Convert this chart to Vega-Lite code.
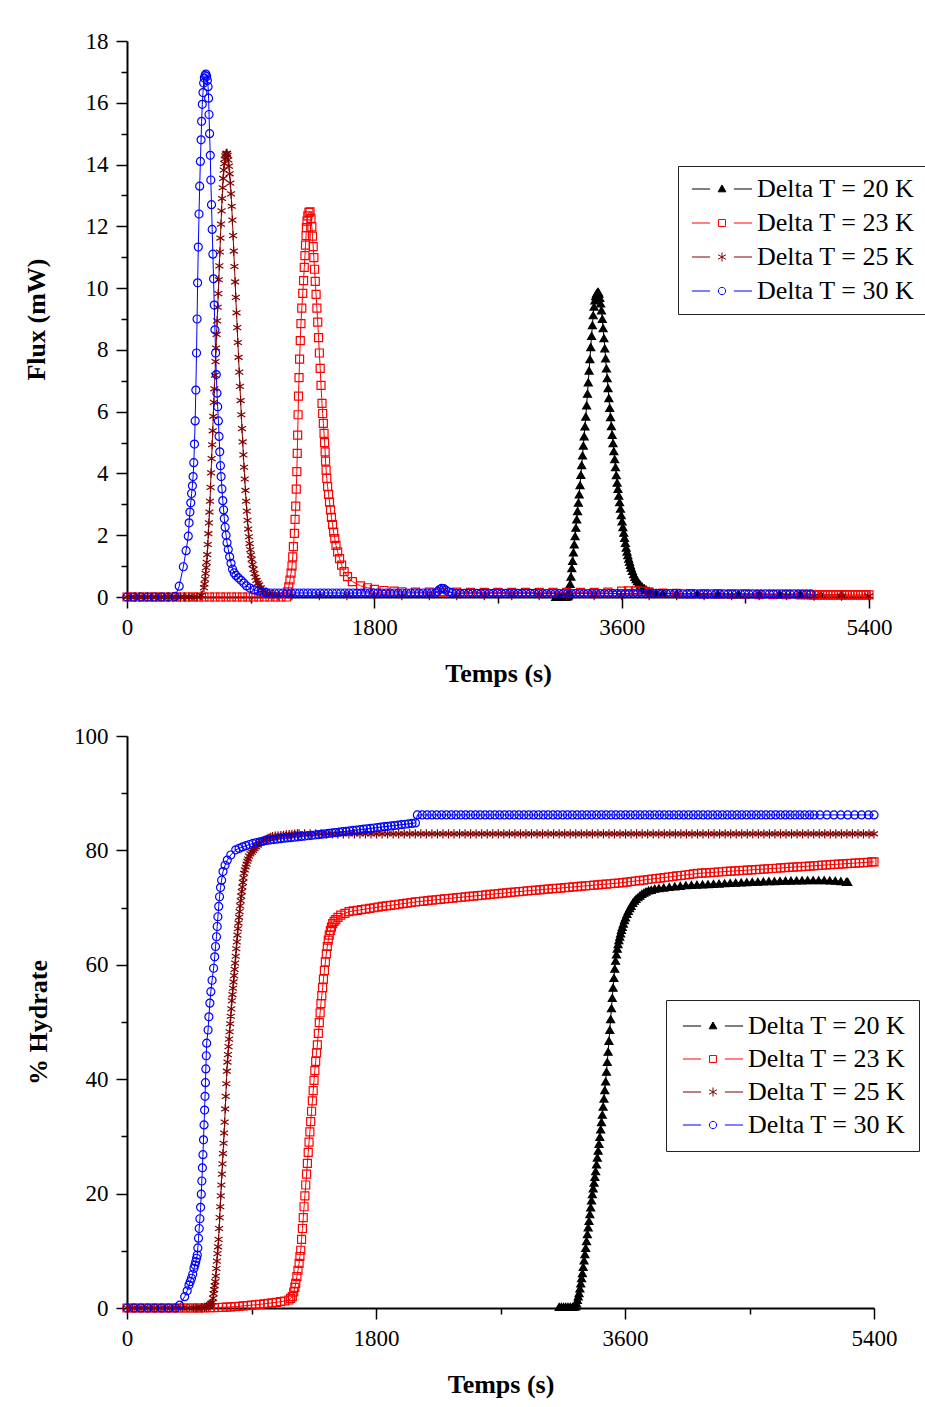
{
"$schema":"https://vega.github.io/schema/vega-lite/v6.json",
"background":"white",
"padding":{"left":23,"top":30,"right":5,"bottom":5},
"spacing":39,
"resolve":{"scale":{"color":"independent"},"legend":{"color":"independent"}},
"config":{
"font":"Liberation Serif",
"view":{"stroke":null},
"axis":{"grid":false,"domainColor":"black","domainWidth":2,"tickColor":"black","tickWidth":1.5,"labelFont":"Liberation Serif","labelFontSize":23,"labelColor":"black","titleFont":"Liberation Serif","titleFontSize":26,"titleFontWeight":"bold","titleColor":"black","labelFlush":false,"labelOverlap":false,"labelPadding":8,"format":"d"}
},
"datasets":{
"flux":[
{"s":20,"t":3120,"v":0},{"s":20,"t":3135,"v":0},{"s":20,"t":3150,"v":0},{"s":20,"t":3165,"v":0},{"s":20,"t":3180,"v":0},{"s":20,"t":3195,"v":0},{"s":20,"t":3207,"v":0.02},{"s":20,"t":3213,"v":0.05},
{"s":20,"t":3219,"v":0.17},{"s":20,"t":3225,"v":0.42},{"s":20,"t":3231,"v":0.66},{"s":20,"t":3237,"v":0.93},{"s":20,"t":3243,"v":1.17},{"s":20,"t":3249,"v":1.44},{"s":20,"t":3255,"v":1.7},{"s":20,"t":3261,"v":1.97},{"s":20,"t":3267,"v":2.24},{"s":20,"t":3273,"v":2.51},{"s":20,"t":3279,"v":2.78},{"s":20,"t":3285,"v":3.05},{"s":20,"t":3291,"v":3.32},{"s":20,"t":3297,"v":3.62},{"s":20,"t":3303,"v":3.95},{"s":20,"t":3309,"v":4.27},{"s":20,"t":3315,"v":4.58},{"s":20,"t":3321,"v":4.9},{"s":20,"t":3327,"v":5.2},{"s":20,"t":3333,"v":5.52},{"s":20,"t":3339,"v":5.84},{"s":20,"t":3345,"v":6.2},{"s":20,"t":3351,"v":6.58},{"s":20,"t":3357,"v":6.95},{"s":20,"t":3363,"v":7.33},{"s":20,"t":3369,"v":7.7},{"s":20,"t":3375,"v":8.09},{"s":20,"t":3381,"v":8.45},{"s":20,"t":3387,"v":8.8},{"s":20,"t":3393,"v":9.12},{"s":20,"t":3399,"v":9.4},{"s":20,"t":3405,"v":9.6},{"s":20,"t":3411,"v":9.74},{"s":20,"t":3417,"v":9.82},{"s":20,"t":3423,"v":9.86},{"s":20,"t":3429,"v":9.88},{"s":20,"t":3435,"v":9.82},{"s":20,"t":3441,"v":9.68},{"s":20,"t":3447,"v":9.5},{"s":20,"t":3453,"v":9.28},{"s":20,"t":3459,"v":9.0},{"s":20,"t":3465,"v":8.7},{"s":20,"t":3471,"v":8.38},{"s":20,"t":3477,"v":8.05},{"s":20,"t":3483,"v":7.72},{"s":20,"t":3489,"v":7.4},{"s":20,"t":3495,"v":7.08},{"s":20,"t":3501,"v":6.76},{"s":20,"t":3507,"v":6.44},{"s":20,"t":3513,"v":6.12},{"s":20,"t":3519,"v":5.82},{"s":20,"t":3525,"v":5.53},{"s":20,"t":3531,"v":5.25},{"s":20,"t":3537,"v":4.98},{"s":20,"t":3543,"v":4.72},{"s":20,"t":3549,"v":4.46},{"s":20,"t":3555,"v":4.2},{"s":20,"t":3561,"v":3.94},{"s":20,"t":3567,"v":3.7},{"s":20,"t":3573,"v":3.5},{"s":20,"t":3579,"v":3.28},{"s":20,"t":3585,"v":3.07},{"s":20,"t":3591,"v":2.86},{"s":20,"t":3597,"v":2.65},{"s":20,"t":3603,"v":2.45},{"s":20,"t":3609,"v":2.26},{"s":20,"t":3615,"v":2.08},{"s":20,"t":3621,"v":1.91},{"s":20,"t":3627,"v":1.75},{"s":20,"t":3633,"v":1.6},{"s":20,"t":3639,"v":1.47},{"s":20,"t":3645,"v":1.35},{"s":20,"t":3651,"v":1.24},{"s":20,"t":3657,"v":1.14},{"s":20,"t":3663,"v":1.04},{"s":20,"t":3669,"v":0.95},{"s":20,"t":3678,"v":0.84},{"s":20,"t":3687,"v":0.74},{"s":20,"t":3696,"v":0.65},{"s":20,"t":3705,"v":0.58},{"s":20,"t":3715,"v":0.51},{"s":20,"t":3725,"v":0.45},{"s":20,"t":3737,"v":0.39},{"s":20,"t":3750,"v":0.33},{"s":20,"t":3765,"v":0.28},{"s":20,"t":3780,"v":0.24},{"s":20,"t":3800,"v":0.2},{"s":20,"t":3820,"v":0.17},{"s":20,"t":3850,"v":0.14},{"s":20,"t":3900,"v":0.12},{"s":20,"t":4000,"v":0.1},{"s":20,"t":4150,"v":0.1},{"s":20,"t":4300,"v":0.09},{"s":20,"t":4450,"v":0.09},{"s":20,"t":4600,"v":0.08},{"s":20,"t":4750,"v":0.08},{"s":20,"t":4900,"v":0.08},{"s":20,"t":5050,"v":0.07},{"s":20,"t":5200,"v":0.07},
{"s":23,"t":0,"v":0},{"s":23,"t":40,"v":0},{"s":23,"t":80,"v":0},{"s":23,"t":120,"v":0},{"s":23,"t":160,"v":0},{"s":23,"t":200,"v":0},{"s":23,"t":240,"v":0},{"s":23,"t":280,"v":0},{"s":23,"t":320,"v":0},{"s":23,"t":360,"v":0},{"s":23,"t":400,"v":0},{"s":23,"t":440,"v":0},{"s":23,"t":480,"v":0},{"s":23,"t":520,"v":0},{"s":23,"t":560,"v":0},{"s":23,"t":600,"v":0},{"s":23,"t":640,"v":0},{"s":23,"t":680,"v":0},{"s":23,"t":720,"v":0},{"s":23,"t":760,"v":0},{"s":23,"t":800,"v":0},{"s":23,"t":840,"v":0},{"s":23,"t":880,"v":0},{"s":23,"t":920,"v":0},{"s":23,"t":960,"v":0},{"s":23,"t":1000,"v":0},{"s":23,"t":1040,"v":0},{"s":23,"t":1080,"v":0},{"s":23,"t":1120,"v":0},{"s":23,"t":1160,"v":0},
{"s":23,"t":1170,"v":0.17},{"s":23,"t":1177,"v":0.33},{"s":23,"t":1186,"v":0.55},{"s":23,"t":1194,"v":0.77},{"s":23,"t":1201,"v":1.01},{"s":23,"t":1206,"v":1.3},{"s":23,"t":1211,"v":1.63},{"s":23,"t":1218,"v":2.06},{"s":23,"t":1223,"v":2.51},{"s":23,"t":1228,"v":2.94},{"s":23,"t":1232,"v":3.49},{"s":23,"t":1236,"v":4.06},{"s":23,"t":1239,"v":4.65},{"s":23,"t":1242,"v":5.24},{"s":23,"t":1245,"v":5.9},{"s":23,"t":1248,"v":6.5},{"s":23,"t":1252,"v":7.1},{"s":23,"t":1256,"v":7.7},{"s":23,"t":1261,"v":8.3},{"s":23,"t":1266,"v":8.85},{"s":23,"t":1272,"v":9.35},{"s":23,"t":1279,"v":9.83},{"s":23,"t":1285,"v":10.24},{"s":23,"t":1290,"v":10.67},{"s":23,"t":1295,"v":11.05},{"s":23,"t":1299,"v":11.39},{"s":23,"t":1303,"v":11.7},{"s":23,"t":1306,"v":11.96},{"s":23,"t":1310,"v":12.17},{"s":23,"t":1316,"v":12.34},{"s":23,"t":1324,"v":12.45},{"s":23,"t":1332,"v":12.47},{"s":23,"t":1339,"v":12.26},{"s":23,"t":1345,"v":11.98},{"s":23,"t":1350,"v":11.68},{"s":23,"t":1355,"v":11.34},{"s":23,"t":1360,"v":10.99},{"s":23,"t":1365,"v":10.61},{"s":23,"t":1370,"v":10.22},{"s":23,"t":1376,"v":9.8},{"s":23,"t":1382,"v":9.35},{"s":23,"t":1388,"v":8.9},{"s":23,"t":1394,"v":8.4},{"s":23,"t":1400,"v":7.9},{"s":23,"t":1406,"v":7.4},{"s":23,"t":1412,"v":6.85},{"s":23,"t":1419,"v":6.27},{"s":23,"t":1424,"v":5.94},{"s":23,"t":1429,"v":5.62},{"s":23,"t":1434,"v":5.3},{"s":23,"t":1438,"v":5.0},{"s":23,"t":1442,"v":4.7},{"s":23,"t":1445,"v":4.4},{"s":23,"t":1449,"v":4.11},{"s":23,"t":1454,"v":3.84},{"s":23,"t":1460,"v":3.57},{"s":23,"t":1467,"v":3.32},{"s":23,"t":1474,"v":3.07},{"s":23,"t":1481,"v":2.82},{"s":23,"t":1488,"v":2.58},{"s":23,"t":1496,"v":2.34},{"s":23,"t":1504,"v":2.1},{"s":23,"t":1512,"v":1.89},{"s":23,"t":1521,"v":1.67},{"s":23,"t":1533,"v":1.46},{"s":23,"t":1547,"v":1.24},{"s":23,"t":1562,"v":1.03},{"s":23,"t":1580,"v":0.82},{"s":23,"t":1605,"v":0.66},{"s":23,"t":1640,"v":0.5},{"s":23,"t":1700,"v":0.36},{"s":23,"t":1750,"v":0.3},{"s":23,"t":1800,"v":0.25},{"s":23,"t":1870,"v":0.21},{"s":23,"t":1943,"v":0.19},
{"s":23,"t":2000,"v":0.17},{"s":23,"t":2100,"v":0.16},{"s":23,"t":2200,"v":0.16},{"s":23,"t":2300,"v":0.16},{"s":23,"t":2400,"v":0.16},{"s":23,"t":2500,"v":0.15},{"s":23,"t":2600,"v":0.15},{"s":23,"t":2700,"v":0.15},{"s":23,"t":2800,"v":0.15},{"s":23,"t":2900,"v":0.15},{"s":23,"t":3000,"v":0.15},{"s":23,"t":3100,"v":0.15},{"s":23,"t":3200,"v":0.15},{"s":23,"t":3300,"v":0.15},{"s":23,"t":3400,"v":0.15},{"s":23,"t":3500,"v":0.16},{"s":23,"t":3600,"v":0.19},{"s":23,"t":3650,"v":0.2},{"s":23,"t":3700,"v":0.2},{"s":23,"t":3750,"v":0.19},{"s":23,"t":3800,"v":0.16},{"s":23,"t":3900,"v":0.13},{"s":23,"t":4000,"v":0.12},{"s":23,"t":4100,"v":0.11},{"s":23,"t":4200,"v":0.1},{"s":23,"t":4300,"v":0.1},{"s":23,"t":4400,"v":0.09},{"s":23,"t":4500,"v":0.09},{"s":23,"t":4600,"v":0.08},{"s":23,"t":4700,"v":0.08},{"s":23,"t":4800,"v":0.08},{"s":23,"t":4900,"v":0.07},
{"s":23,"t":4960,"v":0.07},{"s":23,"t":4980,"v":0.07},{"s":23,"t":5000,"v":0.07},{"s":23,"t":5020,"v":0.07},{"s":23,"t":5040,"v":0.07},{"s":23,"t":5060,"v":0.07},{"s":23,"t":5080,"v":0.07},{"s":23,"t":5100,"v":0.07},{"s":23,"t":5120,"v":0.07},{"s":23,"t":5140,"v":0.07},{"s":23,"t":5160,"v":0.07},{"s":23,"t":5180,"v":0.07},{"s":23,"t":5200,"v":0.07},{"s":23,"t":5220,"v":0.07},{"s":23,"t":5240,"v":0.07},{"s":23,"t":5260,"v":0.07},{"s":23,"t":5280,"v":0.07},{"s":23,"t":5300,"v":0.07},{"s":23,"t":5320,"v":0.07},{"s":23,"t":5340,"v":0.07},{"s":23,"t":5360,"v":0.07},{"s":23,"t":5380,"v":0.07},{"s":23,"t":5400,"v":0.07},
{"s":25,"t":0,"v":0},{"s":25,"t":30,"v":0},{"s":25,"t":60,"v":0},{"s":25,"t":90,"v":0},{"s":25,"t":120,"v":0},{"s":25,"t":150,"v":0},{"s":25,"t":180,"v":0},{"s":25,"t":210,"v":0},{"s":25,"t":240,"v":0},{"s":25,"t":270,"v":0},{"s":25,"t":300,"v":0},{"s":25,"t":330,"v":0},{"s":25,"t":360,"v":0},{"s":25,"t":390,"v":0},{"s":25,"t":420,"v":0},{"s":25,"t":450,"v":0},{"s":25,"t":480,"v":0},{"s":25,"t":510,"v":0},{"s":25,"t":540,"v":0.05},
{"s":25,"t":560,"v":0.3},{"s":25,"t":564,"v":0.42},{"s":25,"t":568,"v":0.58},{"s":25,"t":572,"v":0.76},{"s":25,"t":576,"v":0.95},{"s":25,"t":580,"v":1.12},{"s":25,"t":584,"v":1.37},{"s":25,"t":588,"v":1.7},{"s":25,"t":592,"v":2.05},{"s":25,"t":596,"v":2.4},{"s":25,"t":600,"v":2.75},{"s":25,"t":604,"v":3.1},{"s":25,"t":608,"v":3.55},{"s":25,"t":612,"v":4.02},{"s":25,"t":616,"v":4.48},{"s":25,"t":620,"v":4.93},{"s":25,"t":624,"v":5.38},{"s":25,"t":628,"v":5.85},{"s":25,"t":632,"v":6.3},{"s":25,"t":636,"v":6.74},{"s":25,"t":640,"v":7.18},{"s":25,"t":644,"v":7.62},{"s":25,"t":648,"v":8.06},{"s":25,"t":652,"v":8.5},{"s":25,"t":656,"v":8.94},{"s":25,"t":660,"v":9.38},{"s":25,"t":664,"v":9.82},{"s":25,"t":668,"v":10.27},{"s":25,"t":672,"v":10.72},{"s":25,"t":676,"v":11.17},{"s":25,"t":680,"v":11.62},{"s":25,"t":684,"v":12.07},{"s":25,"t":688,"v":12.5},{"s":25,"t":692,"v":12.9},{"s":25,"t":696,"v":13.25},{"s":25,"t":700,"v":13.55},{"s":25,"t":704,"v":13.82},{"s":25,"t":708,"v":14.03},{"s":25,"t":712,"v":14.18},{"s":25,"t":716,"v":14.28},{"s":25,"t":720,"v":14.34},{"s":25,"t":724,"v":14.36},{"s":25,"t":728,"v":14.36},
{"s":25,"t":732,"v":14.3},{"s":25,"t":737,"v":14.15},{"s":25,"t":742,"v":13.95},{"s":25,"t":747,"v":13.7},{"s":25,"t":752,"v":13.4},{"s":25,"t":757,"v":13.05},{"s":25,"t":762,"v":12.65},{"s":25,"t":767,"v":12.2},{"s":25,"t":772,"v":11.7},{"s":25,"t":777,"v":11.2},{"s":25,"t":782,"v":10.7},{"s":25,"t":787,"v":10.2},{"s":25,"t":792,"v":9.7},{"s":25,"t":797,"v":9.2},{"s":25,"t":802,"v":8.72},{"s":25,"t":807,"v":8.24},{"s":25,"t":812,"v":7.76},{"s":25,"t":817,"v":7.28},{"s":25,"t":822,"v":6.82},{"s":25,"t":827,"v":6.36},{"s":25,"t":832,"v":5.9},{"s":25,"t":837,"v":5.45},{"s":25,"t":842,"v":5.02},{"s":25,"t":847,"v":4.6},{"s":25,"t":852,"v":4.2},{"s":25,"t":857,"v":3.82},{"s":25,"t":862,"v":3.45},{"s":25,"t":867,"v":3.1},{"s":25,"t":872,"v":2.78},{"s":25,"t":877,"v":2.48},{"s":25,"t":882,"v":2.2},{"s":25,"t":887,"v":1.95},{"s":25,"t":892,"v":1.73},{"s":25,"t":897,"v":1.53},{"s":25,"t":902,"v":1.36},{"s":25,"t":907,"v":1.22},{"s":25,"t":914,"v":1.05},{"s":25,"t":921,"v":0.9},{"s":25,"t":928,"v":0.76},{"s":25,"t":935,"v":0.64},{"s":25,"t":943,"v":0.54},{"s":25,"t":952,"v":0.45},{"s":25,"t":961,"v":0.39},{"s":25,"t":975,"v":0.3},{"s":25,"t":990,"v":0.22},{"s":25,"t":1005,"v":0.16},{"s":25,"t":1020,"v":0.12},{"s":25,"t":1035,"v":0.09},{"s":25,"t":1060,"v":0.07},{"s":25,"t":1100,"v":0.05},
{"s":25,"t":1200,"v":0.04},{"s":25,"t":1400,"v":0.04},{"s":25,"t":1600,"v":0.04},{"s":25,"t":1800,"v":0.04},{"s":25,"t":2000,"v":0.04},{"s":25,"t":2200,"v":0.04},{"s":25,"t":2400,"v":0.04},{"s":25,"t":2600,"v":0.04},{"s":25,"t":2800,"v":0.04},{"s":25,"t":3000,"v":0.04},{"s":25,"t":3200,"v":0.04},{"s":25,"t":3400,"v":0.04},{"s":25,"t":3600,"v":0.04},{"s":25,"t":3800,"v":0.04},{"s":25,"t":4000,"v":0.04},{"s":25,"t":4200,"v":0.04},{"s":25,"t":4400,"v":0.04},{"s":25,"t":4600,"v":0.04},{"s":25,"t":4800,"v":0.04},{"s":25,"t":5000,"v":0.03},{"s":25,"t":5200,"v":0.03},{"s":25,"t":5400,"v":0.03},
{"s":30,"t":0,"v":0},{"s":30,"t":50,"v":0},{"s":30,"t":100,"v":0},{"s":30,"t":150,"v":0},{"s":30,"t":200,"v":0},{"s":30,"t":250,"v":0},{"s":30,"t":300,"v":0},{"s":30,"t":350,"v":0.02},{"s":30,"t":380,"v":0.35},{"s":30,"t":410,"v":0.98},{"s":30,"t":430,"v":1.5},{"s":30,"t":446,"v":1.97},{"s":30,"t":452,"v":2.4},{"s":30,"t":458,"v":2.75},{"s":30,"t":464,"v":3.05},{"s":30,"t":470,"v":3.35},{"s":30,"t":476,"v":3.6},{"s":30,"t":481,"v":3.9},{"s":30,"t":486,"v":4.35},{"s":30,"t":491,"v":4.95},{"s":30,"t":496,"v":5.7},{"s":30,"t":501,"v":6.7},{"s":30,"t":506,"v":7.9},{"s":30,"t":510,"v":9.0},{"s":30,"t":514,"v":10.17},{"s":30,"t":519,"v":11.33},{"s":30,"t":524,"v":12.4},{"s":30,"t":529,"v":13.3},{"s":30,"t":534,"v":14.1},{"s":30,"t":539,"v":14.8},{"s":30,"t":543,"v":15.4},{"s":30,"t":548,"v":15.95},{"s":30,"t":553,"v":16.33},{"s":30,"t":558,"v":16.64},{"s":30,"t":563,"v":16.8},{"s":30,"t":568,"v":16.88},{"s":30,"t":574,"v":16.93},{"s":30,"t":580,"v":16.85},{"s":30,"t":585,"v":16.72},{"s":30,"t":590,"v":16.52},{"s":30,"t":594,"v":16.15},{"s":30,"t":597,"v":15.62},{"s":30,"t":601,"v":15.0},{"s":30,"t":606,"v":14.3},{"s":30,"t":610,"v":13.5},{"s":30,"t":615,"v":12.7},{"s":30,"t":620,"v":11.9},{"s":30,"t":625,"v":11.1},{"s":30,"t":630,"v":10.3},{"s":30,"t":635,"v":9.45},{"s":30,"t":640,"v":8.65},{"s":30,"t":645,"v":7.9},{"s":30,"t":650,"v":7.2},{"s":30,"t":655,"v":6.6},{"s":30,"t":660,"v":6.16},{"s":30,"t":665,"v":5.7},{"s":30,"t":670,"v":5.2},{"s":30,"t":675,"v":4.7},{"s":30,"t":680,"v":4.25},{"s":30,"t":685,"v":3.9},{"s":30,"t":691,"v":3.5},{"s":30,"t":697,"v":3.12},{"s":30,"t":703,"v":2.82},{"s":30,"t":708,"v":2.54},{"s":30,"t":714,"v":2.26},{"s":30,"t":721,"v":2.0},{"s":30,"t":728,"v":1.76},{"s":30,"t":737,"v":1.54},{"s":30,"t":747,"v":1.3},{"s":30,"t":757,"v":1.09},{"s":30,"t":768,"v":0.9},{"s":30,"t":780,"v":0.78},{"s":30,"t":793,"v":0.7},{"s":30,"t":810,"v":0.62},{"s":30,"t":830,"v":0.54},{"s":30,"t":850,"v":0.45},{"s":30,"t":870,"v":0.36},{"s":30,"t":895,"v":0.29},{"s":30,"t":925,"v":0.23},{"s":30,"t":955,"v":0.19},{"s":30,"t":985,"v":0.16},{"s":30,"t":1015,"v":0.14},
{"s":30,"t":1045,"v":0.13},{"s":30,"t":1075,"v":0.13},{"s":30,"t":1105,"v":0.13},{"s":30,"t":1135,"v":0.13},{"s":30,"t":1165,"v":0.13},{"s":30,"t":1195,"v":0.13},{"s":30,"t":1225,"v":0.13},{"s":30,"t":1255,"v":0.13},{"s":30,"t":1285,"v":0.13},{"s":30,"t":1315,"v":0.13},{"s":30,"t":1345,"v":0.13},{"s":30,"t":1375,"v":0.13},{"s":30,"t":1405,"v":0.13},{"s":30,"t":1435,"v":0.13},{"s":30,"t":1465,"v":0.13},{"s":30,"t":1495,"v":0.13},{"s":30,"t":1525,"v":0.13},{"s":30,"t":1555,"v":0.13},{"s":30,"t":1585,"v":0.13},{"s":30,"t":1615,"v":0.13},{"s":30,"t":1645,"v":0.13},{"s":30,"t":1675,"v":0.13},{"s":30,"t":1705,"v":0.13},{"s":30,"t":1735,"v":0.13},{"s":30,"t":1765,"v":0.13},{"s":30,"t":1795,"v":0.13},{"s":30,"t":1825,"v":0.13},{"s":30,"t":1855,"v":0.13},{"s":30,"t":1885,"v":0.13},{"s":30,"t":1915,"v":0.13},{"s":30,"t":1945,"v":0.13},{"s":30,"t":1975,"v":0.13},{"s":30,"t":2005,"v":0.13},{"s":30,"t":2035,"v":0.13},{"s":30,"t":2065,"v":0.13},{"s":30,"t":2095,"v":0.13},{"s":30,"t":2125,"v":0.13},{"s":30,"t":2155,"v":0.13},{"s":30,"t":2185,"v":0.13},{"s":30,"t":2215,"v":0.13},{"s":30,"t":2245,"v":0.13},
{"s":30,"t":2260,"v":0.18},{"s":30,"t":2275,"v":0.24},{"s":30,"t":2290,"v":0.28},{"s":30,"t":2305,"v":0.27},{"s":30,"t":2320,"v":0.22},{"s":30,"t":2340,"v":0.17},{"s":30,"t":2365,"v":0.14},
{"s":30,"t":2395,"v":0.12},{"s":30,"t":2425,"v":0.12},{"s":30,"t":2455,"v":0.12},{"s":30,"t":2485,"v":0.12},{"s":30,"t":2515,"v":0.12},{"s":30,"t":2545,"v":0.12},{"s":30,"t":2575,"v":0.12},{"s":30,"t":2605,"v":0.12},{"s":30,"t":2635,"v":0.12},{"s":30,"t":2665,"v":0.12},{"s":30,"t":2695,"v":0.12},{"s":30,"t":2725,"v":0.12},{"s":30,"t":2755,"v":0.12},{"s":30,"t":2785,"v":0.12},{"s":30,"t":2815,"v":0.12},{"s":30,"t":2845,"v":0.12},{"s":30,"t":2875,"v":0.12},{"s":30,"t":2905,"v":0.12},{"s":30,"t":2935,"v":0.12},{"s":30,"t":2965,"v":0.12},
{"s":30,"t":2995,"v":0.11},{"s":30,"t":3025,"v":0.11},{"s":30,"t":3055,"v":0.11},{"s":30,"t":3085,"v":0.11},{"s":30,"t":3115,"v":0.11},{"s":30,"t":3145,"v":0.11},{"s":30,"t":3175,"v":0.11},{"s":30,"t":3205,"v":0.11},{"s":30,"t":3235,"v":0.11},{"s":30,"t":3265,"v":0.11},{"s":30,"t":3295,"v":0.11},{"s":30,"t":3325,"v":0.11},{"s":30,"t":3355,"v":0.11},{"s":30,"t":3385,"v":0.11},{"s":30,"t":3415,"v":0.11},{"s":30,"t":3445,"v":0.11},{"s":30,"t":3475,"v":0.11},{"s":30,"t":3505,"v":0.11},{"s":30,"t":3535,"v":0.11},{"s":30,"t":3565,"v":0.11},{"s":30,"t":3595,"v":0.11},{"s":30,"t":3625,"v":0.11},{"s":30,"t":3655,"v":0.11},{"s":30,"t":3685,"v":0.11},{"s":30,"t":3715,"v":0.11},{"s":30,"t":3745,"v":0.11},{"s":30,"t":3775,"v":0.11},{"s":30,"t":3805,"v":0.11},{"s":30,"t":3835,"v":0.11},{"s":30,"t":3865,"v":0.11},{"s":30,"t":3895,"v":0.11},{"s":30,"t":3925,"v":0.11},{"s":30,"t":3955,"v":0.11},{"s":30,"t":3985,"v":0.11},
{"s":30,"t":4015,"v":0.1},{"s":30,"t":4045,"v":0.1},{"s":30,"t":4075,"v":0.1},{"s":30,"t":4105,"v":0.1},{"s":30,"t":4135,"v":0.1},{"s":30,"t":4165,"v":0.1},{"s":30,"t":4195,"v":0.1},{"s":30,"t":4225,"v":0.1},{"s":30,"t":4255,"v":0.1},{"s":30,"t":4285,"v":0.1},{"s":30,"t":4315,"v":0.1},{"s":30,"t":4345,"v":0.1},{"s":30,"t":4375,"v":0.1},{"s":30,"t":4405,"v":0.1},{"s":30,"t":4435,"v":0.1},{"s":30,"t":4465,"v":0.1},{"s":30,"t":4495,"v":0.1},{"s":30,"t":4525,"v":0.1},{"s":30,"t":4555,"v":0.1},{"s":30,"t":4585,"v":0.1},{"s":30,"t":4615,"v":0.1},{"s":30,"t":4645,"v":0.1},{"s":30,"t":4675,"v":0.1},{"s":30,"t":4705,"v":0.1},{"s":30,"t":4735,"v":0.1},{"s":30,"t":4765,"v":0.1},{"s":30,"t":4795,"v":0.1},{"s":30,"t":4825,"v":0.1},{"s":30,"t":4855,"v":0.1},{"s":30,"t":4885,"v":0.1},{"s":30,"t":4915,"v":0.1},{"s":30,"t":4945,"v":0.1},{"s":30,"t":4975,"v":0.1}
],
"hyd":[
{"s":20,"t":3124,"v":0.2},{"s":20,"t":3140,"v":0.2},{"s":20,"t":3156,"v":0.2},{"s":20,"t":3172,"v":0.2},{"s":20,"t":3188,"v":0.2},{"s":20,"t":3204,"v":0.2},{"s":20,"t":3220,"v":0.2},{"s":20,"t":3236,"v":0.25},
{"s":20,"t":3244,"v":0.3},{"s":20,"t":3250,"v":0.8},{"s":20,"t":3256,"v":1.4},{"s":20,"t":3262,"v":2.0},{"s":20,"t":3268,"v":2.6},{"s":20,"t":3274,"v":3.4},{"s":20,"t":3280,"v":4.3},{"s":20,"t":3286,"v":5.2},{"s":20,"t":3292,"v":6.1},{"s":20,"t":3298,"v":7.2},{"s":20,"t":3304,"v":8.3},{"s":20,"t":3310,"v":9.4},{"s":20,"t":3316,"v":10.5},{"s":20,"t":3322,"v":11.7},{"s":20,"t":3328,"v":12.9},{"s":20,"t":3334,"v":14.1},{"s":20,"t":3340,"v":15.2},{"s":20,"t":3346,"v":16.4},{"s":20,"t":3352,"v":17.6},{"s":20,"t":3358,"v":18.8},{"s":20,"t":3364,"v":19.9},{"s":20,"t":3370,"v":20.9},{"s":20,"t":3376,"v":21.9},{"s":20,"t":3382,"v":22.9},{"s":20,"t":3388,"v":23.9},{"s":20,"t":3394,"v":25.1},{"s":20,"t":3400,"v":26.3},{"s":20,"t":3406,"v":27.5},{"s":20,"t":3412,"v":28.7},{"s":20,"t":3418,"v":29.9},{"s":20,"t":3424,"v":31.2},{"s":20,"t":3430,"v":32.5},{"s":20,"t":3436,"v":33.8},{"s":20,"t":3442,"v":35.2},{"s":20,"t":3448,"v":36.6},{"s":20,"t":3454,"v":38.1},{"s":20,"t":3460,"v":39.6},{"s":20,"t":3466,"v":41.3},{"s":20,"t":3472,"v":43.0},{"s":20,"t":3478,"v":44.8},{"s":20,"t":3484,"v":46.7},{"s":20,"t":3490,"v":48.6},{"s":20,"t":3496,"v":50.5},{"s":20,"t":3502,"v":52.4},{"s":20,"t":3508,"v":54.2},{"s":20,"t":3514,"v":56.0},{"s":20,"t":3520,"v":57.7},{"s":20,"t":3526,"v":59.3},{"s":20,"t":3532,"v":60.7},{"s":20,"t":3538,"v":61.8},{"s":20,"t":3544,"v":62.8},{"s":20,"t":3550,"v":63.6},{"s":20,"t":3556,"v":64.3},{"s":20,"t":3562,"v":64.9},{"s":20,"t":3568,"v":65.5},{"s":20,"t":3574,"v":66.1},{"s":20,"t":3580,"v":66.6},{"s":20,"t":3588,"v":67.2},{"s":20,"t":3596,"v":67.8},{"s":20,"t":3604,"v":68.3},{"s":20,"t":3614,"v":68.9},{"s":20,"t":3624,"v":69.4},{"s":20,"t":3634,"v":69.9},{"s":20,"t":3644,"v":70.3},{"s":20,"t":3656,"v":70.8},{"s":20,"t":3668,"v":71.2},{"s":20,"t":3680,"v":71.5},{"s":20,"t":3694,"v":71.8},{"s":20,"t":3708,"v":72.1},{"s":20,"t":3722,"v":72.4},{"s":20,"t":3737,"v":72.6},{"s":20,"t":3752,"v":72.8},{"s":20,"t":3770,"v":73.0},{"s":20,"t":3790,"v":73.1},{"s":20,"t":3815,"v":73.3},{"s":20,"t":3845,"v":73.4},{"s":20,"t":3880,"v":73.5},{"s":20,"t":3920,"v":73.6},{"s":20,"t":3960,"v":73.7},{"s":20,"t":4000,"v":73.8},{"s":20,"t":4040,"v":73.9},{"s":20,"t":4080,"v":73.95},{"s":20,"t":4120,"v":74.0},{"s":20,"t":4160,"v":74.05},{"s":20,"t":4200,"v":74.1},{"s":20,"t":4240,"v":74.15},{"s":20,"t":4280,"v":74.2},{"s":20,"t":4320,"v":74.25},{"s":20,"t":4360,"v":74.3},{"s":20,"t":4400,"v":74.35},{"s":20,"t":4440,"v":74.4},{"s":20,"t":4480,"v":74.45},{"s":20,"t":4520,"v":74.5},{"s":20,"t":4560,"v":74.53},{"s":20,"t":4600,"v":74.56},{"s":20,"t":4640,"v":74.6},{"s":20,"t":4680,"v":74.62},{"s":20,"t":4720,"v":74.65},{"s":20,"t":4760,"v":74.7},{"s":20,"t":4800,"v":74.72},{"s":20,"t":4840,"v":74.74},{"s":20,"t":4880,"v":74.76},{"s":20,"t":4920,"v":74.78},{"s":20,"t":4960,"v":74.8},{"s":20,"t":5000,"v":74.8},{"s":20,"t":5040,"v":74.8},{"s":20,"t":5080,"v":74.75},{"s":20,"t":5120,"v":74.7},{"s":20,"t":5160,"v":74.6},{"s":20,"t":5200,"v":74.5},{"s":20,"t":5210,"v":74.5},
{"s":23,"t":0,"v":0},{"s":23,"t":40,"v":0},{"s":23,"t":80,"v":0},{"s":23,"t":120,"v":0},{"s":23,"t":160,"v":0},{"s":23,"t":200,"v":0},{"s":23,"t":240,"v":0},{"s":23,"t":280,"v":0},{"s":23,"t":320,"v":0},{"s":23,"t":360,"v":0},{"s":23,"t":400,"v":0},{"s":23,"t":440,"v":0},{"s":23,"t":480,"v":0},{"s":23,"t":520,"v":0},{"s":23,"t":560,"v":0},
{"s":23,"t":600,"v":0.05},{"s":23,"t":630,"v":0.07},{"s":23,"t":660,"v":0.09},{"s":23,"t":690,"v":0.11},{"s":23,"t":720,"v":0.15},{"s":23,"t":750,"v":0.19},{"s":23,"t":780,"v":0.24},{"s":23,"t":810,"v":0.3},{"s":23,"t":840,"v":0.36},{"s":23,"t":870,"v":0.43},{"s":23,"t":900,"v":0.5},{"s":23,"t":930,"v":0.57},{"s":23,"t":960,"v":0.64},{"s":23,"t":990,"v":0.72},{"s":23,"t":1020,"v":0.8},{"s":23,"t":1050,"v":0.9},{"s":23,"t":1080,"v":1.0},{"s":23,"t":1110,"v":1.1},{"s":23,"t":1140,"v":1.22},{"s":23,"t":1170,"v":1.4},
{"s":23,"t":1183,"v":1.7},{"s":23,"t":1195,"v":2.0},{"s":23,"t":1205,"v":2.8},{"s":23,"t":1213,"v":3.6},{"s":23,"t":1220,"v":4.3},{"s":23,"t":1228,"v":5.5},{"s":23,"t":1236,"v":6.6},{"s":23,"t":1244,"v":7.8},{"s":23,"t":1250,"v":9.0},{"s":23,"t":1256,"v":10.1},{"s":23,"t":1262,"v":12.0},{"s":23,"t":1268,"v":13.9},{"s":23,"t":1274,"v":15.8},{"s":23,"t":1280,"v":17.7},{"s":23,"t":1286,"v":19.6},{"s":23,"t":1292,"v":21.5},{"s":23,"t":1298,"v":23.4},{"s":23,"t":1304,"v":25.3},{"s":23,"t":1310,"v":27.2},{"s":23,"t":1316,"v":29.0},{"s":23,"t":1322,"v":30.8},{"s":23,"t":1328,"v":32.6},{"s":23,"t":1334,"v":34.4},{"s":23,"t":1340,"v":36.2},{"s":23,"t":1346,"v":38.0},{"s":23,"t":1352,"v":39.8},{"s":23,"t":1358,"v":41.5},{"s":23,"t":1364,"v":43.1},{"s":23,"t":1370,"v":44.6},{"s":23,"t":1376,"v":46.0},{"s":23,"t":1383,"v":48.0},{"s":23,"t":1390,"v":49.9},{"s":23,"t":1396,"v":51.6},{"s":23,"t":1402,"v":53.2},{"s":23,"t":1408,"v":54.6},{"s":23,"t":1414,"v":56.0},{"s":23,"t":1420,"v":57.5},{"s":23,"t":1427,"v":59.0},{"s":23,"t":1434,"v":60.5},{"s":23,"t":1441,"v":61.9},{"s":23,"t":1448,"v":63.2},{"s":23,"t":1455,"v":64.3},{"s":23,"t":1462,"v":65.2},{"s":23,"t":1470,"v":66.0},{"s":23,"t":1478,"v":66.6},{"s":23,"t":1487,"v":67.2},{"s":23,"t":1497,"v":67.6},{"s":23,"t":1509,"v":67.9},{"s":23,"t":1525,"v":68.3},{"s":23,"t":1545,"v":68.7},{"s":23,"t":1575,"v":69.0},{"s":23,"t":1605,"v":69.3},
{"s":23,"t":1635,"v":69.41},{"s":23,"t":1665,"v":69.52},{"s":23,"t":1695,"v":69.64},{"s":23,"t":1725,"v":69.75},{"s":23,"t":1755,"v":69.86},{"s":23,"t":1785,"v":69.97},{"s":23,"t":1815,"v":70.09},{"s":23,"t":1845,"v":70.2},{"s":23,"t":1875,"v":70.3},{"s":23,"t":1905,"v":70.39},{"s":23,"t":1935,"v":70.49},{"s":23,"t":1965,"v":70.59},{"s":23,"t":1995,"v":70.69},{"s":23,"t":2025,"v":70.79},{"s":23,"t":2055,"v":70.89},{"s":23,"t":2085,"v":70.99},{"s":23,"t":2115,"v":71.07},{"s":23,"t":2145,"v":71.14},{"s":23,"t":2175,"v":71.22},{"s":23,"t":2205,"v":71.29},{"s":23,"t":2235,"v":71.37},{"s":23,"t":2265,"v":71.44},{"s":23,"t":2295,"v":71.52},{"s":23,"t":2325,"v":71.59},{"s":23,"t":2355,"v":71.66},{"s":23,"t":2385,"v":71.74},{"s":23,"t":2415,"v":71.81},{"s":23,"t":2445,"v":71.88},{"s":23,"t":2475,"v":71.95},{"s":23,"t":2505,"v":72.02},{"s":23,"t":2535,"v":72.09},{"s":23,"t":2565,"v":72.16},{"s":23,"t":2595,"v":72.23},{"s":23,"t":2625,"v":72.3},{"s":23,"t":2655,"v":72.38},{"s":23,"t":2685,"v":72.45},{"s":23,"t":2715,"v":72.52},{"s":23,"t":2745,"v":72.59},{"s":23,"t":2775,"v":72.66},{"s":23,"t":2805,"v":72.73},{"s":23,"t":2835,"v":72.8},{"s":23,"t":2865,"v":72.86},{"s":23,"t":2895,"v":72.93},{"s":23,"t":2925,"v":72.99},{"s":23,"t":2955,"v":73.05},{"s":23,"t":2985,"v":73.11},{"s":23,"t":3015,"v":73.18},{"s":23,"t":3045,"v":73.24},{"s":23,"t":3075,"v":73.3},{"s":23,"t":3105,"v":73.36},{"s":23,"t":3135,"v":73.42},{"s":23,"t":3165,"v":73.49},{"s":23,"t":3195,"v":73.55},{"s":23,"t":3225,"v":73.61},{"s":23,"t":3255,"v":73.67},{"s":23,"t":3285,"v":73.74},{"s":23,"t":3315,"v":73.8},{"s":23,"t":3345,"v":73.86},{"s":23,"t":3375,"v":73.92},{"s":23,"t":3405,"v":73.99},{"s":23,"t":3435,"v":74.05},{"s":23,"t":3465,"v":74.11},{"s":23,"t":3495,"v":74.17},{"s":23,"t":3525,"v":74.23},{"s":23,"t":3555,"v":74.3},{"s":23,"t":3585,"v":74.38},{"s":23,"t":3615,"v":74.47},{"s":23,"t":3645,"v":74.56},{"s":23,"t":3675,"v":74.65},{"s":23,"t":3705,"v":74.73},{"s":23,"t":3735,"v":74.82},{"s":23,"t":3765,"v":74.91},{"s":23,"t":3795,"v":75.0},{"s":23,"t":3825,"v":75.09},{"s":23,"t":3855,"v":75.17},{"s":23,"t":3885,"v":75.26},{"s":23,"t":3915,"v":75.35},{"s":23,"t":3945,"v":75.44},{"s":23,"t":3975,"v":75.53},{"s":23,"t":4005,"v":75.61},{"s":23,"t":4035,"v":75.7},{"s":23,"t":4065,"v":75.79},{"s":23,"t":4095,"v":75.88},{"s":23,"t":4125,"v":75.97},{"s":23,"t":4155,"v":76.03},{"s":23,"t":4185,"v":76.08},{"s":23,"t":4215,"v":76.13},{"s":23,"t":4245,"v":76.17},{"s":23,"t":4275,"v":76.22},{"s":23,"t":4305,"v":76.27},{"s":23,"t":4335,"v":76.32},{"s":23,"t":4365,"v":76.36},{"s":23,"t":4395,"v":76.41},{"s":23,"t":4425,"v":76.46},{"s":23,"t":4455,"v":76.5},{"s":23,"t":4485,"v":76.55},{"s":23,"t":4515,"v":76.6},{"s":23,"t":4545,"v":76.65},{"s":23,"t":4575,"v":76.69},{"s":23,"t":4605,"v":76.74},{"s":23,"t":4635,"v":76.79},{"s":23,"t":4665,"v":76.84},{"s":23,"t":4695,"v":76.88},{"s":23,"t":4725,"v":76.93},{"s":23,"t":4755,"v":76.98},{"s":23,"t":4785,"v":77.03},{"s":23,"t":4815,"v":77.07},{"s":23,"t":4845,"v":77.12},{"s":23,"t":4875,"v":77.17},{"s":23,"t":4905,"v":77.22},{"s":23,"t":4935,"v":77.26},{"s":23,"t":4965,"v":77.31},{"s":23,"t":4995,"v":77.36},{"s":23,"t":5025,"v":77.41},{"s":23,"t":5055,"v":77.45},{"s":23,"t":5085,"v":77.5},{"s":23,"t":5115,"v":77.55},{"s":23,"t":5145,"v":77.6},{"s":23,"t":5175,"v":77.64},{"s":23,"t":5205,"v":77.69},{"s":23,"t":5235,"v":77.74},{"s":23,"t":5265,"v":77.79},{"s":23,"t":5295,"v":77.83},{"s":23,"t":5325,"v":77.88},{"s":23,"t":5355,"v":77.93},{"s":23,"t":5385,"v":77.98},{"s":23,"t":5400,"v":78.0},
{"s":25,"t":0,"v":0},{"s":25,"t":40,"v":0},{"s":25,"t":80,"v":0},{"s":25,"t":120,"v":0},{"s":25,"t":160,"v":0},{"s":25,"t":200,"v":0},{"s":25,"t":240,"v":0},{"s":25,"t":280,"v":0},{"s":25,"t":320,"v":0},{"s":25,"t":360,"v":0},{"s":25,"t":400,"v":0},{"s":25,"t":440,"v":0},{"s":25,"t":480,"v":0},{"s":25,"t":500,"v":0},{"s":25,"t":520,"v":0},{"s":25,"t":540,"v":0.05},{"s":25,"t":560,"v":0.1},{"s":25,"t":575,"v":0.2},{"s":25,"t":590,"v":0.4},{"s":25,"t":600,"v":0.6},{"s":25,"t":608,"v":0.8},
{"s":25,"t":618,"v":1.0},{"s":25,"t":622,"v":1.7},{"s":25,"t":626,"v":2.5},{"s":25,"t":630,"v":3.2},{"s":25,"t":634,"v":3.9},{"s":25,"t":638,"v":4.6},{"s":25,"t":642,"v":5.6},{"s":25,"t":646,"v":6.9},{"s":25,"t":650,"v":8.2},{"s":25,"t":654,"v":9.5},{"s":25,"t":658,"v":10.7},{"s":25,"t":662,"v":12.0},{"s":25,"t":666,"v":13.9},{"s":25,"t":670,"v":15.8},{"s":25,"t":674,"v":17.7},{"s":25,"t":678,"v":19.6},{"s":25,"t":682,"v":21.5},{"s":25,"t":686,"v":23.4},{"s":25,"t":690,"v":25.2},{"s":25,"t":694,"v":27.0},{"s":25,"t":698,"v":28.8},{"s":25,"t":702,"v":30.6},{"s":25,"t":706,"v":32.5},{"s":25,"t":710,"v":34.8},{"s":25,"t":714,"v":37.0},{"s":25,"t":718,"v":39.2},{"s":25,"t":722,"v":41.4},{"s":25,"t":726,"v":43.0},{"s":25,"t":730,"v":44.3},{"s":25,"t":734,"v":45.7},{"s":25,"t":738,"v":47.0},{"s":25,"t":742,"v":48.3},{"s":25,"t":746,"v":49.7},{"s":25,"t":750,"v":51.0},{"s":25,"t":754,"v":52.3},{"s":25,"t":758,"v":53.7},{"s":25,"t":762,"v":54.8},{"s":25,"t":766,"v":55.9},{"s":25,"t":770,"v":57.0},{"s":25,"t":774,"v":58.1},{"s":25,"t":778,"v":59.2},{"s":25,"t":782,"v":60.3},{"s":25,"t":786,"v":61.5},{"s":25,"t":790,"v":62.8},{"s":25,"t":794,"v":64.0},{"s":25,"t":798,"v":65.2},{"s":25,"t":802,"v":66.3},{"s":25,"t":806,"v":67.3},{"s":25,"t":810,"v":68.3},{"s":25,"t":814,"v":69.3},{"s":25,"t":818,"v":70.3},{"s":25,"t":822,"v":71.2},{"s":25,"t":826,"v":72.0},{"s":25,"t":830,"v":72.8},{"s":25,"t":834,"v":73.6},{"s":25,"t":838,"v":74.4},{"s":25,"t":842,"v":75.2},{"s":25,"t":846,"v":76.0},{"s":25,"t":852,"v":76.6},{"s":25,"t":858,"v":77.1},{"s":25,"t":864,"v":77.6},{"s":25,"t":870,"v":78.1},{"s":25,"t":876,"v":78.5},{"s":25,"t":882,"v":79.0},{"s":25,"t":892,"v":79.4},{"s":25,"t":902,"v":79.7},{"s":25,"t":912,"v":80.0},{"s":25,"t":922,"v":80.3},{"s":25,"t":934,"v":80.6},{"s":25,"t":946,"v":80.9},{"s":25,"t":958,"v":81.3},{"s":25,"t":972,"v":81.5},{"s":25,"t":988,"v":81.7},{"s":25,"t":1004,"v":81.9},{"s":25,"t":1020,"v":82.1},{"s":25,"t":1036,"v":82.3},{"s":25,"t":1052,"v":82.4},{"s":25,"t":1072,"v":82.5},{"s":25,"t":1092,"v":82.55},{"s":25,"t":1112,"v":82.6},{"s":25,"t":1132,"v":82.65},{"s":25,"t":1152,"v":82.7},{"s":25,"t":1172,"v":82.75},{"s":25,"t":1192,"v":82.8},{"s":25,"t":1212,"v":82.85},{"s":25,"t":1232,"v":82.9},{"s":25,"t":1244,"v":82.9},
{"s":25,"t":1284,"v":82.9},{"s":25,"t":1324,"v":82.9},{"s":25,"t":1364,"v":82.9},{"s":25,"t":1404,"v":82.9},{"s":25,"t":1444,"v":82.9},{"s":25,"t":1484,"v":82.9},{"s":25,"t":1524,"v":82.9},{"s":25,"t":1564,"v":82.9},{"s":25,"t":1604,"v":82.9},{"s":25,"t":1644,"v":82.9},{"s":25,"t":1684,"v":82.9},{"s":25,"t":1724,"v":82.9},{"s":25,"t":1764,"v":82.9},{"s":25,"t":1804,"v":82.9},{"s":25,"t":1844,"v":82.9},{"s":25,"t":1884,"v":82.9},{"s":25,"t":1924,"v":82.9},{"s":25,"t":1964,"v":82.9},{"s":25,"t":2004,"v":82.9},{"s":25,"t":2044,"v":82.9},{"s":25,"t":2084,"v":82.9},{"s":25,"t":2124,"v":82.9},{"s":25,"t":2164,"v":82.9},{"s":25,"t":2204,"v":82.9},{"s":25,"t":2244,"v":82.9},{"s":25,"t":2284,"v":82.9},{"s":25,"t":2324,"v":82.9},{"s":25,"t":2364,"v":82.9},{"s":25,"t":2404,"v":82.9},{"s":25,"t":2444,"v":82.9},{"s":25,"t":2484,"v":82.9},{"s":25,"t":2524,"v":82.9},{"s":25,"t":2564,"v":82.9},{"s":25,"t":2604,"v":82.9},{"s":25,"t":2644,"v":82.9},{"s":25,"t":2684,"v":82.9},{"s":25,"t":2724,"v":82.9},{"s":25,"t":2764,"v":82.9},{"s":25,"t":2804,"v":82.9},{"s":25,"t":2844,"v":82.9},{"s":25,"t":2884,"v":82.9},{"s":25,"t":2924,"v":82.9},{"s":25,"t":2964,"v":82.9},{"s":25,"t":3004,"v":82.9},{"s":25,"t":3044,"v":82.9},{"s":25,"t":3084,"v":82.9},{"s":25,"t":3124,"v":82.9},{"s":25,"t":3164,"v":82.9},{"s":25,"t":3204,"v":82.9},{"s":25,"t":3244,"v":82.9},{"s":25,"t":3284,"v":82.9},{"s":25,"t":3324,"v":82.9},{"s":25,"t":3364,"v":82.9},{"s":25,"t":3404,"v":82.9},{"s":25,"t":3444,"v":82.9},{"s":25,"t":3484,"v":82.9},{"s":25,"t":3524,"v":82.9},{"s":25,"t":3564,"v":82.9},{"s":25,"t":3604,"v":82.9},{"s":25,"t":3644,"v":82.9},{"s":25,"t":3684,"v":82.9},{"s":25,"t":3724,"v":82.9},{"s":25,"t":3764,"v":82.9},{"s":25,"t":3804,"v":82.9},{"s":25,"t":3844,"v":82.9},{"s":25,"t":3884,"v":82.9},{"s":25,"t":3924,"v":82.9},{"s":25,"t":3964,"v":82.9},{"s":25,"t":4004,"v":82.9},{"s":25,"t":4044,"v":82.9},{"s":25,"t":4084,"v":82.9},{"s":25,"t":4124,"v":82.9},{"s":25,"t":4164,"v":82.9},{"s":25,"t":4204,"v":82.9},{"s":25,"t":4244,"v":82.9},{"s":25,"t":4284,"v":82.9},{"s":25,"t":4324,"v":82.9},{"s":25,"t":4364,"v":82.9},{"s":25,"t":4404,"v":82.9},{"s":25,"t":4444,"v":82.9},{"s":25,"t":4484,"v":82.9},{"s":25,"t":4524,"v":82.9},{"s":25,"t":4564,"v":82.9},{"s":25,"t":4604,"v":82.9},{"s":25,"t":4644,"v":82.9},{"s":25,"t":4684,"v":82.9},{"s":25,"t":4724,"v":82.9},{"s":25,"t":4764,"v":82.9},{"s":25,"t":4804,"v":82.9},{"s":25,"t":4844,"v":82.9},{"s":25,"t":4884,"v":82.9},{"s":25,"t":4924,"v":82.9},{"s":25,"t":4964,"v":82.9},{"s":25,"t":5004,"v":82.9},{"s":25,"t":5044,"v":82.9},{"s":25,"t":5084,"v":82.9},{"s":25,"t":5124,"v":82.9},{"s":25,"t":5164,"v":82.9},{"s":25,"t":5204,"v":82.9},{"s":25,"t":5244,"v":82.9},{"s":25,"t":5284,"v":82.9},{"s":25,"t":5324,"v":82.9},{"s":25,"t":5364,"v":82.9},{"s":25,"t":5400,"v":82.9},
{"s":30,"t":0,"v":0},{"s":30,"t":50,"v":0},{"s":30,"t":100,"v":0},{"s":30,"t":150,"v":0},{"s":30,"t":200,"v":0},{"s":30,"t":250,"v":0},{"s":30,"t":300,"v":0},{"s":30,"t":350,"v":0},{"s":30,"t":380,"v":0.5},{"s":30,"t":417,"v":1.98},{"s":30,"t":435,"v":3.0},{"s":30,"t":448,"v":4.0},{"s":30,"t":457,"v":4.6},{"s":30,"t":466,"v":5.2},{"s":30,"t":475,"v":5.9},{"s":30,"t":484,"v":6.93},{"s":30,"t":491,"v":7.5},{"s":30,"t":497,"v":8.1},{"s":30,"t":503,"v":8.7},{"s":30,"t":508,"v":9.27},{"s":30,"t":512,"v":10.5},{"s":30,"t":517,"v":12.2},{"s":30,"t":522,"v":13.9},{"s":30,"t":527,"v":15.6},{"s":30,"t":532,"v":17.6},{"s":30,"t":537,"v":19.9},{"s":30,"t":541,"v":22.2},{"s":30,"t":545,"v":24.5},{"s":30,"t":549,"v":26.8},{"s":30,"t":553,"v":29.4},{"s":30,"t":557,"v":32.0},{"s":30,"t":561,"v":34.6},{"s":30,"t":564,"v":37.0},{"s":30,"t":567,"v":39.4},{"s":30,"t":570,"v":41.8},{"s":30,"t":573,"v":44.1},{"s":30,"t":576,"v":46.3},{"s":30,"t":586,"v":48.6},{"s":30,"t":592,"v":50.9},{"s":30,"t":599,"v":53.3},{"s":30,"t":606,"v":55.3},{"s":30,"t":615,"v":57.3},{"s":30,"t":626,"v":59.4},{"s":30,"t":634,"v":61.4},{"s":30,"t":640,"v":63.2},{"s":30,"t":647,"v":64.9},{"s":30,"t":652,"v":66.7},{"s":30,"t":657,"v":68.4},{"s":30,"t":663,"v":70.2},{"s":30,"t":669,"v":71.9},{"s":30,"t":676,"v":73.5},{"s":30,"t":684,"v":74.8},{"s":30,"t":694,"v":76.3},{"s":30,"t":709,"v":77.4},{"s":30,"t":725,"v":78.3},{"s":30,"t":750,"v":79.2},{"s":30,"t":786,"v":80.1},
{"s":30,"t":810,"v":80.35},{"s":30,"t":835,"v":80.6},{"s":30,"t":860,"v":80.82},{"s":30,"t":885,"v":81.03},{"s":30,"t":910,"v":81.22},{"s":30,"t":935,"v":81.37},{"s":30,"t":960,"v":81.5},{"s":30,"t":985,"v":81.62},{"s":30,"t":1010,"v":81.73},{"s":30,"t":1035,"v":81.84},{"s":30,"t":1060,"v":81.9},{"s":30,"t":1085,"v":81.97},{"s":30,"t":1110,"v":82.05},{"s":30,"t":1135,"v":82.13},{"s":30,"t":1160,"v":82.19},{"s":30,"t":1185,"v":82.25},{"s":30,"t":1210,"v":82.31},{"s":30,"t":1235,"v":82.38},{"s":30,"t":1260,"v":82.44},{"s":30,"t":1285,"v":82.5},{"s":30,"t":1310,"v":82.56},{"s":30,"t":1335,"v":82.63},{"s":30,"t":1360,"v":82.69},{"s":30,"t":1385,"v":82.76},{"s":30,"t":1410,"v":82.83},{"s":30,"t":1435,"v":82.9},{"s":30,"t":1460,"v":82.98},{"s":30,"t":1485,"v":83.05},{"s":30,"t":1510,"v":83.12},{"s":30,"t":1535,"v":83.2},{"s":30,"t":1560,"v":83.27},{"s":30,"t":1585,"v":83.34},{"s":30,"t":1610,"v":83.41},{"s":30,"t":1635,"v":83.49},{"s":30,"t":1660,"v":83.56},{"s":30,"t":1685,"v":83.63},{"s":30,"t":1710,"v":83.71},{"s":30,"t":1735,"v":83.78},{"s":30,"t":1760,"v":83.85},{"s":30,"t":1785,"v":83.92},{"s":30,"t":1810,"v":84.0},{"s":30,"t":1835,"v":84.07},{"s":30,"t":1860,"v":84.14},{"s":30,"t":1885,"v":84.21},{"s":30,"t":1910,"v":84.28},{"s":30,"t":1935,"v":84.35},{"s":30,"t":1960,"v":84.43},{"s":30,"t":1985,"v":84.5},{"s":30,"t":2010,"v":84.57},{"s":30,"t":2035,"v":84.64},{"s":30,"t":2060,"v":84.71},{"s":30,"t":2085,"v":84.8},
{"s":30,"t":2099,"v":86.2},{"s":30,"t":2134,"v":86.2},{"s":30,"t":2169,"v":86.2},{"s":30,"t":2204,"v":86.2},{"s":30,"t":2239,"v":86.2},{"s":30,"t":2274,"v":86.2},{"s":30,"t":2309,"v":86.2},{"s":30,"t":2344,"v":86.2},{"s":30,"t":2379,"v":86.2},{"s":30,"t":2414,"v":86.2},{"s":30,"t":2449,"v":86.2},{"s":30,"t":2484,"v":86.2},{"s":30,"t":2519,"v":86.2},{"s":30,"t":2554,"v":86.2},{"s":30,"t":2589,"v":86.2},{"s":30,"t":2624,"v":86.2},{"s":30,"t":2659,"v":86.2},{"s":30,"t":2694,"v":86.2},{"s":30,"t":2729,"v":86.2},{"s":30,"t":2764,"v":86.2},{"s":30,"t":2799,"v":86.2},{"s":30,"t":2834,"v":86.2},{"s":30,"t":2869,"v":86.2},{"s":30,"t":2904,"v":86.2},{"s":30,"t":2939,"v":86.2},{"s":30,"t":2974,"v":86.2},{"s":30,"t":3009,"v":86.2},{"s":30,"t":3044,"v":86.2},{"s":30,"t":3079,"v":86.2},{"s":30,"t":3114,"v":86.2},{"s":30,"t":3149,"v":86.2},{"s":30,"t":3184,"v":86.2},{"s":30,"t":3219,"v":86.2},{"s":30,"t":3254,"v":86.2},{"s":30,"t":3289,"v":86.2},{"s":30,"t":3324,"v":86.2},{"s":30,"t":3359,"v":86.2},{"s":30,"t":3394,"v":86.2},{"s":30,"t":3429,"v":86.2},{"s":30,"t":3464,"v":86.2},{"s":30,"t":3499,"v":86.2},{"s":30,"t":3534,"v":86.2},{"s":30,"t":3569,"v":86.2},{"s":30,"t":3604,"v":86.2},{"s":30,"t":3639,"v":86.2},{"s":30,"t":3674,"v":86.2},{"s":30,"t":3709,"v":86.2},{"s":30,"t":3744,"v":86.2},{"s":30,"t":3779,"v":86.2},{"s":30,"t":3814,"v":86.2},{"s":30,"t":3849,"v":86.2},{"s":30,"t":3884,"v":86.2},{"s":30,"t":3919,"v":86.2},{"s":30,"t":3954,"v":86.2},{"s":30,"t":3989,"v":86.2},{"s":30,"t":4024,"v":86.2},{"s":30,"t":4059,"v":86.2},{"s":30,"t":4094,"v":86.2},{"s":30,"t":4129,"v":86.2},{"s":30,"t":4164,"v":86.2},{"s":30,"t":4199,"v":86.2},{"s":30,"t":4234,"v":86.2},{"s":30,"t":4269,"v":86.2},{"s":30,"t":4304,"v":86.2},{"s":30,"t":4339,"v":86.2},{"s":30,"t":4374,"v":86.2},{"s":30,"t":4409,"v":86.2},{"s":30,"t":4444,"v":86.2},{"s":30,"t":4479,"v":86.2},{"s":30,"t":4514,"v":86.2},{"s":30,"t":4549,"v":86.2},{"s":30,"t":4584,"v":86.2},{"s":30,"t":4619,"v":86.2},{"s":30,"t":4654,"v":86.2},{"s":30,"t":4689,"v":86.2},{"s":30,"t":4724,"v":86.2},{"s":30,"t":4759,"v":86.2},{"s":30,"t":4794,"v":86.2},{"s":30,"t":4829,"v":86.2},{"s":30,"t":4864,"v":86.2},{"s":30,"t":4899,"v":86.2},{"s":30,"t":4934,"v":86.2},{"s":30,"t":4967,"v":86.2},
{"s":30,"t":5010,"v":86.2},{"s":30,"t":5060,"v":86.2},{"s":30,"t":5110,"v":86.2},{"s":30,"t":5160,"v":86.2},{"s":30,"t":5210,"v":86.2},{"s":30,"t":5260,"v":86.2},{"s":30,"t":5310,"v":86.2},{"s":30,"t":5360,"v":86.2},{"s":30,"t":5400,"v":86.2}
]
},
"vconcat":[
{
"width":742,"height":556,
"data":{"name":"flux"},
"encoding":{
"x":{"field":"t","type":"quantitative","scale":{"domain":[0,5400],"nice":false,"zero":false},"axis":{"title":"Temps (s)","values":[0,900,1800,2700,3600,4500,5400],"labelExpr":"datum.value % 1800 === 0 ? datum.label : ''","tickSize":{"condition":{"test":"datum.value % 1800 !== 0","value":6},"value":11},"titlePadding":21}},
"y":{"field":"v","type":"quantitative","scale":{"domain":[0,18],"nice":false},"axis":{"title":"Flux (mW)","values":[0,1,2,3,4,5,6,7,8,9,10,11,12,13,14,15,16,17,18],"labelExpr":"datum.value % 2 === 0 ? datum.label : ''","tickSize":{"condition":{"test":"datum.value % 2 !== 0","value":6},"value":11},"titlePadding":36}},
"color":{"field":"s","type":"nominal","scale":{"domain":[20,23,25,30],"range":["#000000","#ff0000","#800000","#0000ff"]},
"legend":{"title":null,"orient":"none","legendX":551,"legendY":125,"direction":"vertical","labelExpr":"'Delta T = ' + datum.label + ' K'","labelFont":"Liberation Serif","labelFontSize":26,"labelColor":"black","labelLimit":400,"strokeColor":"#222222","fillColor":"white","padding":10,"rowPadding":8,"symbolSize":49,"symbolOffset":21,"labelOffset":22,
"encode":{"symbols":{"update":{"shape":{"signal":"datum.value == 20 ? 'M-8.6,0L-3.4,0M3.4,0L8.6,0M0,-1.15L1.1,0.8L-1.1,0.8Z' : datum.value == 23 ? 'M-8.6,0L-3.4,0M3.4,0L8.6,0M-1,-1L1,-1L1,1L-1,1Z' : datum.value == 25 ? 'M-8.6,0L-3.4,0M3.4,0L8.6,0M0,-1.3L0,1.3M-1.12,-0.65L1.12,0.65M-1.12,0.65L1.12,-0.65' : 'M-8.6,0L-3.4,0M3.4,0L8.6,0M1.05,0A1.05,1.05,0,1,1,-1.05,0A1.05,1.05,0,1,1,1.05,0Z'"},"fill":{"signal":"datum.value == 20 ? 'black' : 'transparent'"},"strokeWidth":{"value":1},"size":{"value":49},"opacity":{"value":1}}}}}}
},
"layer":[
{"mark":{"type":"line","strokeWidth":1}},
{"mark":{"type":"point","filled":false,"size":64,"strokeWidth":1.2,"opacity":1},
"encoding":{"shape":{"condition":[{"test":"datum.s == 20","value":"triangle-up"},{"test":"datum.s == 23","value":"square"},{"test":"datum.s == 25","value":"M0,-1.15L0,1.15M-1,-0.58L1,0.58M-1,0.58L1,-0.58"}],"value":"circle"},
"fill":{"condition":{"test":"datum.s == 20","value":"#000000"},"value":"transparent"}}}
]
},
{
"width":747,"height":572,
"data":{"name":"hyd"},
"encoding":{
"x":{"field":"t","type":"quantitative","scale":{"domain":[0,5400],"nice":false,"zero":false},"axis":{"title":"Temps (s)","values":[0,900,1800,2700,3600,4500,5400],"labelExpr":"datum.value % 1800 === 0 ? datum.label : ''","tickSize":{"condition":{"test":"datum.value % 1800 !== 0","value":6},"value":11},"titlePadding":21}},
"y":{"field":"v","type":"quantitative","scale":{"domain":[0,100],"nice":false},"axis":{"title":"% Hydrate","values":[0,10,20,30,40,50,60,70,80,90,100],"labelExpr":"datum.value % 20 === 0 ? datum.label : ''","tickSize":{"condition":{"test":"datum.value % 20 !== 0","value":6},"value":11},"titlePadding":22}},
"color":{"field":"s","type":"nominal","scale":{"domain":[20,23,25,30],"range":["#000000","#ff0000","#800000","#0000ff"]},
"legend":{"title":null,"orient":"none","legendX":539,"legendY":264,"direction":"vertical","labelExpr":"'Delta T = ' + datum.label + ' K'","labelFont":"Liberation Serif","labelFontSize":26,"labelColor":"black","labelLimit":400,"strokeColor":"#222222","fillColor":"white","padding":13,"rowPadding":7,"symbolSize":49,"symbolOffset":21,"labelOffset":22,
"encode":{"symbols":{"update":{"shape":{"signal":"datum.value == 20 ? 'M-8.6,0L-3.4,0M3.4,0L8.6,0M0,-1.15L1.1,0.8L-1.1,0.8Z' : datum.value == 23 ? 'M-8.6,0L-3.4,0M3.4,0L8.6,0M-1,-1L1,-1L1,1L-1,1Z' : datum.value == 25 ? 'M-8.6,0L-3.4,0M3.4,0L8.6,0M0,-1.3L0,1.3M-1.12,-0.65L1.12,0.65M-1.12,0.65L1.12,-0.65' : 'M-8.6,0L-3.4,0M3.4,0L8.6,0M1.05,0A1.05,1.05,0,1,1,-1.05,0A1.05,1.05,0,1,1,1.05,0Z'"},"fill":{"signal":"datum.value == 20 ? 'black' : 'transparent'"},"strokeWidth":{"value":1},"size":{"value":49},"opacity":{"value":1}}}}}}
},
"layer":[
{"mark":{"type":"line","strokeWidth":1}},
{"mark":{"type":"point","filled":false,"size":64,"strokeWidth":1.2,"opacity":1},
"encoding":{"shape":{"condition":[{"test":"datum.s == 20","value":"triangle-up"},{"test":"datum.s == 23","value":"square"},{"test":"datum.s == 25","value":"M0,-1.15L0,1.15M-1,-0.58L1,0.58M-1,0.58L1,-0.58"}],"value":"circle"},
"fill":{"condition":{"test":"datum.s == 20","value":"#000000"},"value":"transparent"}}}
]
}
]
}
